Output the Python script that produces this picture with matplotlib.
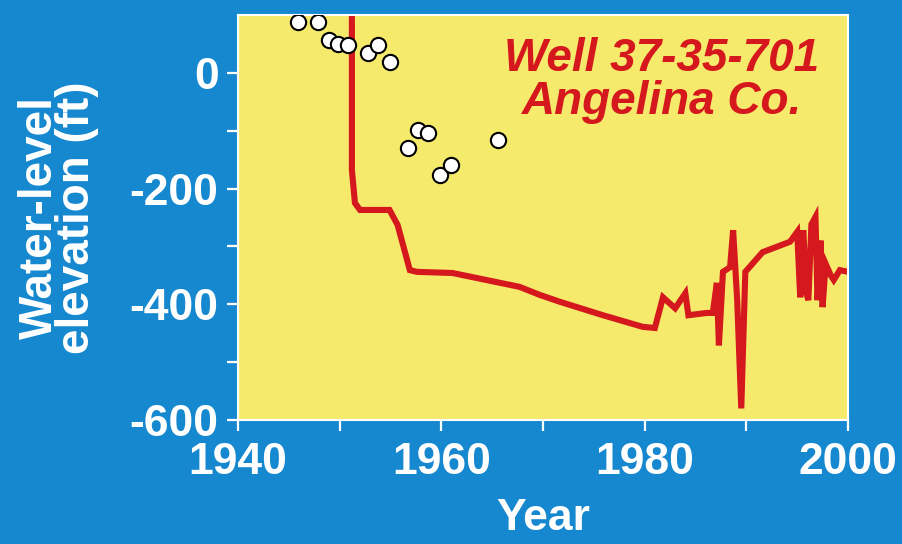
import matplotlib
matplotlib.use('Agg')
import matplotlib.pyplot as plt

# measured water levels (circles)
obs_year = [1945.9, 1947.9, 1948.9, 1949.8, 1950.8, 1952.8, 1953.8, 1954.9,
            1956.7, 1957.7, 1958.7, 1959.9, 1960.9, 1965.6]
obs_elev = [88, 88, 57, 50, 48, 35, 48, 19,
            -130, -99, -104, -176, -159, -116]

# hydrograph (red line)
line_year = [1951.2, 1951.2, 1951.5, 1952.0, 1954.9, 1955.7, 1956.9, 1957.6,
             1961.1, 1967.7, 1969.7, 1971.7, 1975.9, 1979.8, 1981.0, 1981.8,
             1983.0, 1984.0, 1984.3, 1986.1, 1986.7, 1987.1, 1987.3, 1987.7,
             1988.4, 1988.7, 1989.1, 1989.5, 1989.9, 1991.6, 1994.3, 1995.0,
             1995.3, 1995.6, 1995.9, 1996.1, 1996.4, 1996.8, 1997.0, 1997.3,
             1997.5, 1997.8, 1998.3, 1998.6, 1999.2, 2000.0]
line_elev = [110, -168, -225, -237, -237, -263, -341, -344,
             -346, -370, -384, -396, -419, -439, -441, -388,
             -407, -381, -419, -415, -415, -363, -471, -344,
             -336, -272, -393, -580, -344, -310, -292, -275,
             -388, -272, -380, -393, -262, -249, -393, -290,
             -405, -330, -350, -358, -341, -344]

blue = '#1688cf'
yellow = '#f6ea6c'
red = '#d5181e'

plt.rcParams['font.family'] = ['Liberation Sans', 'DejaVu Sans']

fig = plt.figure(figsize=(9.03, 5.44), dpi=100, facecolor=blue)
ax = fig.add_axes([0.2636, 0.228, 0.6755, 0.7445])
ax.set_facecolor(yellow)

ax.plot(line_year, line_elev, color=red, lw=4.4, solid_joinstyle='miter', zorder=2)
ax.plot(obs_year, obs_elev, 'o', ms=11, mfc='white', mec='black', mew=1.5, zorder=3)

ax.set_xlim(1940, 2000)
ax.set_ylim(-600, 100)
ax.set_xticks(range(1940, 2001, 10))
ax.set_xticklabels(['1940', '', '1960', '', '1980', '', '2000'])
ax.set_yticks(range(-600, 1, 100))
ax.set_yticklabels(['-600', '', '-400', '', '-200', '', '0'])

for s in ax.spines.values():
    s.set_color('white')
    s.set_linewidth(1.5)

ax.tick_params(colors='white', length=8, width=1.6, direction='out',
               labelsize=32, pad=6)
ax.tick_params(axis='x', pad=8)
for lab in ax.get_xticklabels() + ax.get_yticklabels():
    lab.set_fontweight('bold')

ax.set_xlabel('Year', color='white', fontsize=32, fontweight='bold', labelpad=11)
ax.set_ylabel('Water-level\nelevation (ft)', color='white', fontsize=33,
              fontweight='bold', linespacing=0.8, labelpad=22)

ax.text(0.695, 0.945, 'Well 37-35-701\nAngelina Co.', transform=ax.transAxes,
        ha='center', va='top', color=red, fontsize=33, fontweight='bold',
        fontstyle='italic', linespacing=0.95)

fig.savefig('out.png', dpi=100, facecolor=blue)
